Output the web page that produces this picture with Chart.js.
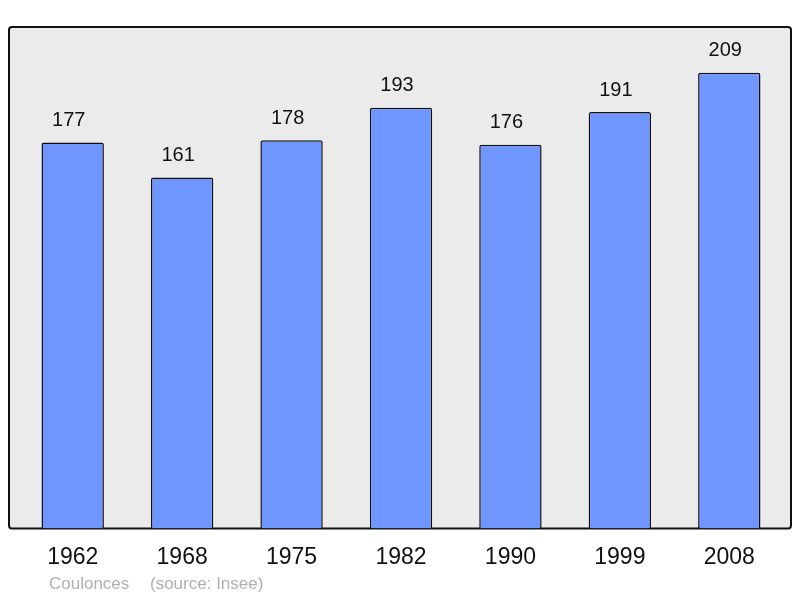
<!DOCTYPE html>
<html>
<head>
<meta charset="utf-8">
<script src="https://cdn.jsdelivr.net/npm/chart.js@4"></script>
<style>
  body { margin: 0; background: #fff; }
  #wrap { width: 800px; height: 598px; }
</style>
</head>
<body>
<div id="wrap"><canvas id="popChart" width="800" height="598"></canvas></div>
<script>
// données
const years = ['1962', '1968', '1975', '1982', '1990', '1999', '2008'];
const population = [177, 161, 178, 193, 176, 191, 209];
const yMax = 230;
const footerName = 'Coulonces';
const footerSource = '(source: Insee)';

// fond gris + cadre
const frameBox = {
  id: 'frameBox',
  beforeDraw(chart) {
    const { ctx, chartArea: a } = chart;
    const x = a.left - 9, y = a.top, w = a.right - a.left + 16, h = a.bottom - a.top;
    ctx.save();
    ctx.beginPath();
    ctx.roundRect(x, y, w, h, 3);
    ctx.fillStyle = '#ebebeb';
    ctx.fill();
    ctx.lineWidth = 2;
    ctx.strokeStyle = '#111';
    ctx.stroke();
    ctx.restore();
  }
};

// valeurs au-dessus des barres + source
const barLabels = {
  id: 'barLabels',
  afterDatasetsDraw(chart) {
    const ctx = chart.ctx;
    ctx.save();
    ctx.font = '20px "Liberation Sans", Arial, sans-serif';
    ctx.fillStyle = '#111';
    ctx.textAlign = 'center';
    ctx.textBaseline = 'middle';
    chart.getDatasetMeta(0).data.forEach((bar, i) => {
      ctx.fillText(population[i], bar.x - 4, bar.y - 22);
    });
    ctx.font = '17px "Liberation Sans", Arial, sans-serif';
    ctx.fillStyle = '#b0b0b0';
    ctx.textAlign = 'left';
    ctx.fillText(footerName, 49, 584);
    ctx.fillText(footerSource, 150, 584);
    ctx.restore();
  }
};

const ctx = document.getElementById('popChart').getContext('2d');
new Chart(ctx, {
  type: 'bar',
  data: {
    labels: years,
    datasets: [{
      data: population,
      backgroundColor: '#6f96ff',
      borderColor: '#111',
      borderWidth: 1.5,
      borderSkipped: 'bottom',
      borderRadius: { topLeft: 2, topRight: 2 },
      categoryPercentage: 1,
      barPercentage: 0.57
    }]
  },
  options: {
    responsive: false,
    animation: false,
    layout: { padding: { left: 18, right: 16, top: 27, bottom: 20 } },
    plugins: { legend: { display: false }, tooltip: { enabled: false } },
    scales: {
      x: {
        grid: { display: false },
        border: { display: false },
        ticks: {
          color: '#111',
          padding: 7,
          font: { family: '"Liberation Sans", Arial, sans-serif', size: 23 }
        }
      },
      y: { display: false, min: 0, max: yMax }
    }
  },
  plugins: [frameBox, barLabels]
});
</script>
</body>
</html>
